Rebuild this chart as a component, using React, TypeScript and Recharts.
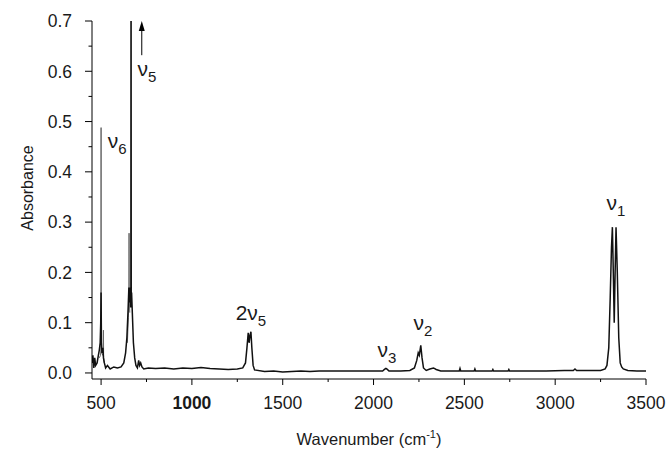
import React from "react";
import { LineChart, Line, XAxis, YAxis, ReferenceDot, ReferenceLine } from "recharts";

// main trace (black)
const wavenumber = [
  450, 455, 460, 465, 470, 478, 485, 490, 495, 498, 500, 502, 505, 510, 513, 518, 525, 535, 550, 570,
  590, 610, 625, 635, 642, 648, 653, 657, 660, 663, 664, 665, 666, 668, 672, 678, 685, 692, 700, 707,
  712, 718, 725, 735, 760, 800, 850, 900, 950, 1000, 1050, 1100, 1150, 1200, 1250, 1280, 1295, 1303, 1310, 1315,
  1320, 1325, 1330, 1337, 1345, 1400, 1450, 1500, 1550, 1600, 1650, 1700, 1800, 1900, 2000, 2050, 2060, 2068, 2076, 2085,
  2150, 2200, 2225, 2238, 2246, 2252, 2260, 2267, 2275, 2290, 2310, 2330, 2345, 2370, 2420, 2472, 2476, 2480, 2554, 2558,
  2562, 2653, 2657, 2661, 2741, 2745, 2749, 2850, 2950, 3050, 3100, 3109, 3118, 3150, 3250, 3275, 3285, 3295, 3303, 3310,
  3315, 3320, 3325, 3330, 3335, 3342, 3350, 3358, 3366, 3375, 3400, 3450, 3500,
];
const absorbance = [
  0.02, 0.035, 0.01, 0.03, 0.015, 0.02, 0.035, 0.045, 0.06, 0.1, 0.16, 0.06, 0.04, 0.05, 0.03, 0.02, 0.01, 0.015, 0.008, 0.012,
  0.01, 0.012, 0.02, 0.04, 0.07, 0.12, 0.17, 0.14, 0.17, 0.13, 0.15, 1.0, 0.15, 0.16, 0.12, 0.06, 0.03, 0.015, 0.01, 0.025,
  0.015, 0.02, 0.012, 0.008, 0.01, 0.009, 0.01, 0.008, 0.01, 0.009, 0.011, 0.009, 0.008, 0.007, 0.008, 0.01, 0.02, 0.05, 0.08, 0.06,
  0.075, 0.082, 0.05, 0.015, 0.006, 0.003, 0.004, 0.002, 0.003, 0.004, 0.003, 0.004, 0.004, 0.004, 0.004, 0.004, 0.007, 0.009, 0.007, 0.004,
  0.004, 0.005, 0.01, 0.025, 0.04, 0.035, 0.055, 0.03, 0.01, 0.005, 0.008, 0.01, 0.007, 0.004, 0.004, 0.004, 0.009, 0.004, 0.004, 0.008,
  0.004, 0.004, 0.007, 0.004, 0.004, 0.007, 0.004, 0.004, 0.004, 0.005, 0.005, 0.008, 0.005, 0.005, 0.005, 0.008, 0.015, 0.05, 0.15, 0.25,
  0.29, 0.2, 0.1, 0.2, 0.29, 0.2, 0.07, 0.02, 0.012, 0.008, 0.005, 0.004, 0.004,
];

// sharp lines of the second (grey) trace
const v6Wavenumber = [490, 497, 499.5, 500, 500.5, 503, 510, 512, 513, 514, 517];
const v6Absorbance = [0.03, 0.035, 0.05, 0.488, 0.05, 0.04, 0.035, 0.04, 0.085, 0.03, 0.02];
const v5Wavenumber = [645, 650, 653, 654, 655, 658];
const v5Absorbance = [0.06, 0.11, 0.16, 0.278, 0.15, 0.12];

const xTicks = [500, 750, 1000, 1250, 1500, 1750, 2000, 2250, 2500, 2750, 3000, 3250, 3500];
const yTicks = [0, 0.05, 0.1, 0.15, 0.2, 0.25, 0.3, 0.35, 0.4, 0.45, 0.5, 0.55, 0.6, 0.65, 0.7];

const bandPrefix = ["", "", "2", "", "", ""];
const bandSub = ["6", "5", "5", "3", "2", "1"];
const bandWavenumber = [588, 753, 1325, 2074, 2272, 3334];
const bandAbsorbance = [0.447, 0.59, 0.105, 0.032, 0.085, 0.324];

const spectrum = wavenumber.map((x, i) => ({ x, y: absorbance[i] }));
const v6Line = v6Wavenumber.map((x, i) => ({ x, y: v6Absorbance[i] }));
const v5Line = v5Wavenumber.map((x, i) => ({ x, y: v5Absorbance[i] }));

const FONT = '"Liberation Sans", Arial, Helvetica, sans-serif';
const TEXT = "#1a1a1a";

const YTick = (props: any) => {
  const { x, y, payload } = props;
  const v = payload.value;
  const major = Math.round(v * 100) % 10 === 0;
  const axisX = x + 7 + 13;
  return (
    <g>
      <line x1={axisX - (major ? 7 : 3.5)} x2={axisX} y1={y} y2={y} stroke="#000" strokeWidth={1} />
      {major && (
        <text x={x} y={y} dy="0.36em" textAnchor="end" fontSize={17.5} fontFamily={FONT} fill={TEXT}>
          {v.toFixed(1)}
        </text>
      )}
    </g>
  );
};

const XTick = (props: any) => {
  const { x, y, payload } = props;
  const v = payload.value;
  const major = v % 500 === 0;
  const axisY = y - 6 - 12;
  return (
    <g>
      <line x1={x} x2={x} y1={axisY} y2={axisY + (major ? 6 : 3)} stroke="#000" strokeWidth={1} />
      {major && (
        <text
          x={x}
          y={y}
          dy="0.71em"
          textAnchor="middle"
          fontSize={17.5}
          fontFamily={FONT}
          fontWeight={v === 1000 ? "bold" : "normal"}
          fill={TEXT}
        >
          {v}
        </text>
      )}
    </g>
  );
};

const XTitle = (props: any) => {
  const { viewBox } = props;
  return (
    <text
      x={viewBox.x + viewBox.width / 2}
      y={viewBox.y + 66}
      textAnchor="middle"
      fontSize={16.5}
      fontFamily={FONT}
      fill={TEXT}
    >
      Wavenumber (cm
      <tspan dy={-7} fontSize={11}>
        -1
      </tspan>
      <tspan dy={7}>)</tspan>
    </text>
  );
};

const YTitle = (props: any) => {
  const { viewBox } = props;
  const cx = viewBox.x + 33;
  const cy = viewBox.y + viewBox.height / 2 - 12;
  return (
    <text
      transform={`translate(${cx},${cy}) rotate(-90)`}
      textAnchor="middle"
      fontSize={16}
      fontFamily={FONT}
      fill={TEXT}
    >
      Absorbance
    </text>
  );
};

const bandShape = (i: number) => (props: any) => (
  <text x={props.cx} y={props.cy} textAnchor="middle" fontSize={21} fontFamily={FONT} fill={TEXT}>
    {bandPrefix[i]}ν
    <tspan dy={6} fontSize={15}>
      {bandSub[i]}
    </tspan>
  </text>
);

const Arrow = (props: any) => {
  const { x1, y1, x2, y2 } = props;
  const top = Math.min(y1, y2);
  const bottom = Math.max(y1, y2);
  return (
    <g>
      <line x1={x1} x2={x1} y1={top + 8} y2={bottom} stroke="#000" strokeWidth={1} />
      <polygon points={`${x1},${top} ${x1 - 3},${top + 10} ${x1 + 3},${top + 10}`} fill="#000" />
    </g>
  );
};

export default function App() {
  return (
    <div style={{ position: "absolute", left: 0, top: 0, background: "#fff" }}>
      <LineChart width={670} height={450} margin={{ top: 21, right: 24, bottom: 21, left: 0 }}>
        <XAxis
          type="number"
          dataKey="x"
          domain={[450, 3500]}
          ticks={xTicks}
          interval={0}
          allowDataOverflow
          tickLine={false}
          tickSize={6}
          tickMargin={12}
          height={50}
          axisLine={{ stroke: "#000", strokeWidth: 1 }}
          tick={<XTick />}
          label={<XTitle />}
        />
        <YAxis
          type="number"
          dataKey="y"
          domain={[-0.012, 0.7]}
          ticks={yTicks}
          interval={0}
          allowDataOverflow
          tickLine={false}
          tickSize={7}
          tickMargin={13}
          width={92}
          axisLine={{ stroke: "#000", strokeWidth: 1 }}
          tick={<YTick />}
          label={<YTitle />}
        />
        <Line
          data={v6Line}
          dataKey="y"
          type="linear"
          stroke="#666"
          strokeWidth={1}
          dot={false}
          isAnimationActive={false}
        />
        <Line
          data={v5Line}
          dataKey="y"
          type="linear"
          stroke="#666"
          strokeWidth={1}
          dot={false}
          isAnimationActive={false}
        />
        <Line
          data={spectrum}
          dataKey="y"
          type="linear"
          stroke="#111"
          strokeWidth={1.5}
          dot={false}
          isAnimationActive={false}
        />
        <ReferenceLine
          segment={[
            { x: 724, y: 0.632 },
            { x: 724, y: 0.7 },
          ]}
          shape={<Arrow />}
        />
        {bandWavenumber.map((w, i) => (
          <ReferenceDot key={i} x={w} y={bandAbsorbance[i]} r={0} shape={bandShape(i)} />
        ))}
      </LineChart>
    </div>
  );
}
